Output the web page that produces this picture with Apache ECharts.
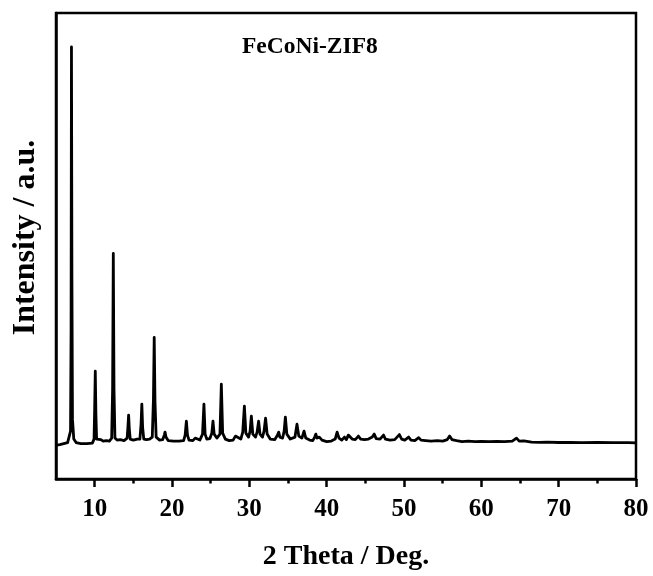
<!DOCTYPE html>
<html>
<head>
<meta charset="utf-8">
<title>FeCoNi-ZIF8 XRD</title>
<script src="https://cdn.jsdelivr.net/npm/echarts@6/dist/echarts.min.js"></script>
<style>
  html, body { margin: 0; padding: 0; background: #fff; }
  #chart { width: 653px; height: 576px; }
</style>
</head>
<body>
<div id="chart"></div>
<script>
// Powder XRD pattern of FeCoNi-ZIF8 (2θ in degrees, intensity in arbitrary units)
const twoTheta = [
  5.0, 5.5, 6.0, 6.5, 6.75, 6.88, 6.95, 7.0, 7.06, 7.13, 7.3, 7.6, 8.2, 9.0, 9.7,
  9.92, 10.0, 10.08, 10.16, 10.25, 10.5, 10.8, 11.1, 11.5, 11.9,
  12.2, 12.32, 12.41, 12.5, 12.62, 12.9, 13.3, 13.8,
  14.2, 14.3, 14.39, 14.48, 14.6, 15.0, 15.5, 15.85,
  16.0, 16.1, 16.2, 16.35, 16.7, 17.1, 17.45,
  17.6, 17.7, 17.8, 17.95, 18.4, 18.8, 19.0, 19.1, 19.22, 19.5, 20.2, 20.9, 21.5,
  21.7, 21.86, 22.0, 22.2, 22.7, 23.0, 23.06, 23.15, 23.6,
  23.95, 24.13, 24.28, 24.5, 24.9, 25.15, 25.3, 25.45, 25.8,
  26.2, 26.38, 26.55, 26.9, 27.4, 27.9, 28.2, 28.3, 28.42, 28.9,
  29.15, 29.36, 29.55, 29.9, 30.1, 30.26, 30.45, 30.8, 31.0, 31.2, 31.38, 31.7,
  31.9, 32.1, 32.3, 32.7, 33.3, 33.65, 33.8, 33.95, 34.3, 34.5, 34.66, 34.85,
  35.3, 35.9, 36.16, 36.4, 36.8, 37.07, 37.3, 37.8, 38.2, 38.45, 38.6, 38.75,
  39.05, 39.2, 39.4, 40.0, 40.6, 41.1, 41.35, 41.6, 41.95, 42.3, 42.55, 42.8,
  43.0, 43.3, 43.7, 44.1, 44.4, 44.9, 45.4, 45.9, 46.15, 46.4, 46.9, 47.35,
  47.6, 48.2, 48.8, 49.4, 49.7, 50.1, 50.6, 50.9, 51.4, 51.9, 52.2, 52.8,
  53.5, 54.3, 55.0, 55.6, 55.9, 56.2, 56.8, 57.5, 58.3, 59.2, 60.0, 61.0,
  62.0, 63.0, 64.0, 64.55, 64.9, 65.5, 66.5, 67.5, 68.5, 70.0, 71.5, 73.0,
  75.0, 77.0, 79.0, 80.0
];
const intensity = [
  34, 34.5, 35.5, 36.5, 38, 48, 150, 433, 200, 60, 40, 36.5, 35.5, 35.5, 36,
  40, 70, 108, 65, 40, 38, 39.5, 38, 38.5, 38,
  41, 90, 226, 90, 41, 39, 39.5, 38.5,
  41, 52, 64, 50, 40, 39, 40, 40,
  55, 75, 52, 40, 39.5, 40, 42,
  80, 142, 78, 42, 39, 39.5, 44, 47, 42, 38.5, 38, 38, 38.5,
  44, 58, 44, 39, 38.5, 41, 42, 39.5, 39,
  45, 75, 45, 40, 40.5, 46, 58, 45, 41,
  45, 95, 46, 40, 38.5, 39, 43, 45, 41, 40,
  47, 73, 46, 42, 48, 63, 45, 42, 47, 58, 45, 42,
  48, 61, 45, 40, 39.5, 44, 47, 42, 41, 48, 62, 45,
  40, 42, 55, 43, 41, 48, 41, 39, 38.5, 42, 45, 41,
  42, 43, 39, 37.5, 38, 40, 47, 41, 39, 42, 39.5, 44,
  45, 40, 39.5, 43, 40, 39.5, 40, 42, 45, 40.5, 40, 44,
  40, 39, 39.5, 44.5, 40, 39, 42, 39, 38.5, 41.5, 39, 38.5,
  38, 38.5, 38, 39.5, 43, 39.5, 38.5, 37.5, 38, 37.5, 37.8, 37.5,
  37.8, 37.5, 38, 41, 38, 38.2, 37, 36.8, 37, 36.6, 36.8, 36.5,
  36.6, 36.4, 36.4, 36.3
];
const majorTicks = [10, 20, 30, 40, 50, 60, 70, 80];
const minorTicks = [15, 25, 35, 45, 55, 65, 75];
const sampleName = 'FeCoNi-ZIF8';
const xName = '2 Theta / Deg.';
const yName = 'Intensity / a.u.';

const serif = "'Liberation Serif', 'Times New Roman', serif";
const points = twoTheta.map((t, i) => [t, intensity[i]]);

const chart = echarts.init(document.getElementById('chart'), null, { renderer: 'canvas' });
chart.setOption({
  animation: false,
  backgroundColor: '#fff',
  title: {
    text: sampleName,
    left: 242,
    top: 35,
    padding: 0,
    textStyle: { fontFamily: serif, fontWeight: 'bold', fontSize: 23.5, color: '#000' }
  },
  grid: {
    left: 56, right: 17, top: 13, bottom: 96,
    show: true, borderColor: '#000', borderWidth: 2.5, backgroundColor: 'transparent'
  },
  xAxis: [{
    type: 'value', min: 5, max: 80, interval: 5,
    name: xName, nameLocation: 'middle', nameGap: 64,
    nameTextStyle: { fontFamily: serif, fontWeight: 'bold', fontSize: 28, color: '#000' },
    axisLine: { show: true, lineStyle: { color: '#000', width: 2.5 } },
    axisTick: { show: true, inside: false, length: 8, customValues: majorTicks,
      lineStyle: { color: '#000', width: 2.5 } },
    axisLabel: { show: true, customValues: majorTicks, margin: 18,
      fontFamily: serif, fontWeight: 'bold', fontSize: 25, color: '#000' },
    splitLine: { show: false }
  }, {
    type: 'value', min: 5, max: 80, interval: 5, gridIndex: 0, position: 'bottom',
    axisLine: { show: false },
    axisTick: { show: true, inside: false, length: 4.5, customValues: minorTicks,
      lineStyle: { color: '#000', width: 2.5 } },
    axisLabel: { show: false },
    splitLine: { show: false }
  }],
  yAxis: {
    type: 'value', min: 0, max: 467,
    name: yName, nameLocation: 'middle', nameGap: 14, nameRotate: 90,
    nameTextStyle: { fontFamily: serif, fontWeight: 'bold', fontSize: 32, color: '#000',
      padding: [0, 0, 0, 17] },
    axisLine: { show: true, lineStyle: { color: '#000', width: 2.5 } },
    axisTick: { show: false },
    axisLabel: { show: false },
    splitLine: { show: false }
  },
  series: [{
    type: 'line',
    xAxisIndex: 0,
    data: points,
    showSymbol: false,
    smooth: false,
    lineStyle: { color: '#000', width: 2.8, join: 'round' },
    silent: true
  }]
});
</script>
</body>
</html>
